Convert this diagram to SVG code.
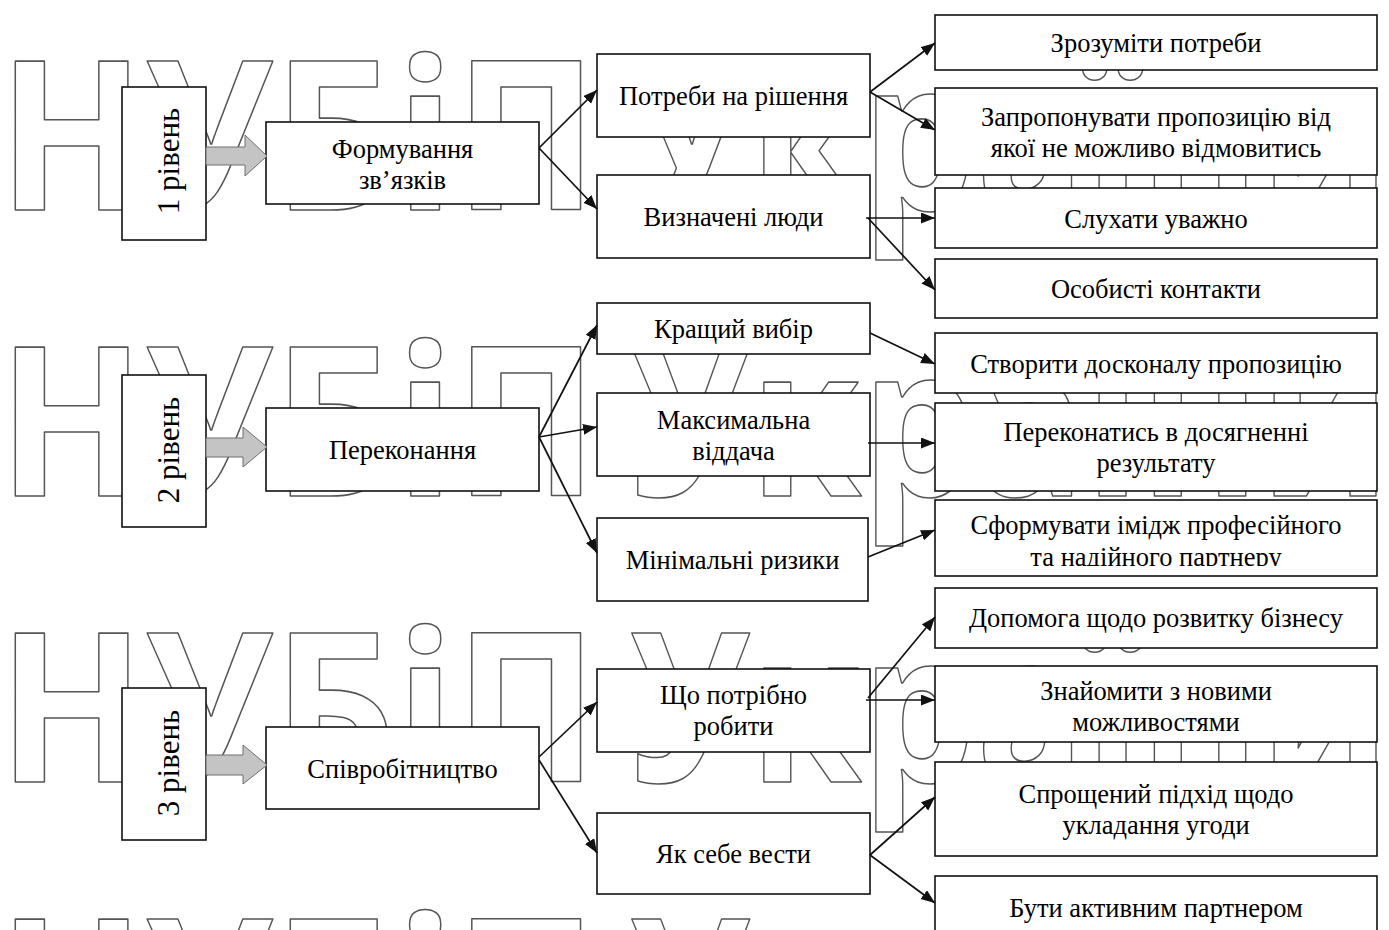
<svg xmlns="http://www.w3.org/2000/svg" width="1389" height="930" viewBox="0 0 1389 930">
  <style>
    .wm text { font-family: "Open Sans", "Liberation Sans", Arial, sans-serif; font-weight: bold; font-size: 209px; fill: #ffffff; stroke: #555555; stroke-width: 1.6; stroke-linejoin: round; }
    .box { fill: #ffffff; stroke: #111111; stroke-width: 1.6; }
    .lbl { font-family: "Liberation Serif", "Times New Roman", serif; font-size: 26.5px; fill: #000000; text-anchor: middle; }
    .lvl { font-family: "Liberation Serif", "Times New Roman", serif; font-size: 31px; fill: #000000; text-anchor: middle; }
    .conn { fill: none; stroke: #111111; stroke-width: 1.7; marker-end: url(#tip); }
    .step { fill: #c4c4c4; stroke: #6e6e6e; stroke-width: 1; }
  </style>
  <defs>
    <marker id="tip" markerUnits="userSpaceOnUse" markerWidth="16" markerHeight="12" refX="14" refY="5.5" orient="auto">
      <path d="M0,0 L14,5.5 L0,11 z" fill="#111111"/>
    </marker>
    <clipPath id="cutSform">
      <rect x="935" y="500" width="442" height="66"/>
    </clipPath>
  </defs>

  <rect width="1389" height="930" fill="#ffffff"/>

  <!-- background lettering -->
  <g id="watermark" class="wm">
    <text x="-2" y="210" textLength="600" lengthAdjust="spacingAndGlyphs">НУБіП</text>
    <text x="630" y="210" textLength="760" lengthAdjust="spacingAndGlyphs">України</text>
    <text x="-2" y="496" textLength="600" lengthAdjust="spacingAndGlyphs">НУБіП</text>
    <text x="630" y="496" textLength="760" lengthAdjust="spacingAndGlyphs">України</text>
    <text x="-2" y="782" textLength="600" lengthAdjust="spacingAndGlyphs">НУБіП</text>
    <text x="630" y="782" textLength="760" lengthAdjust="spacingAndGlyphs">України</text>
    <text x="-2" y="1068" textLength="600" lengthAdjust="spacingAndGlyphs">НУБіП</text>
    <text x="630" y="1068" textLength="760" lengthAdjust="spacingAndGlyphs">України</text>
  </g>

  <!-- level markers -->
  <g id="level1">
    <rect class="box" x="122" y="87" width="84" height="153"/>
    <text class="lvl" transform="translate(179,161) rotate(-90)">1 рівень</text>
  </g>
  <g id="level2">
    <rect class="box" x="122" y="375" width="84" height="152"/>
    <text class="lvl" transform="translate(179,450) rotate(-90)">2 рівень</text>
  </g>
  <g id="level3">
    <rect class="box" x="122" y="688" width="84" height="152"/>
    <text class="lvl" transform="translate(179,763) rotate(-90)">3 рівень</text>
  </g>

  <!-- stage boxes -->
  <g id="formuvannia">
    <rect class="box" x="266" y="122" width="273" height="82"/>
    <text class="lbl" x="402.5" y="158">Формування</text>
    <text class="lbl" x="402.5" y="189">зв’язків</text>
  </g>
  <g id="perekonannia">
    <rect class="box" x="266" y="408" width="273" height="83"/>
    <text class="lbl" x="402.5" y="459">Переконання</text>
  </g>
  <g id="spivrobitnytstvo">
    <rect class="box" x="266" y="727" width="273" height="82"/>
    <text class="lbl" x="402.5" y="778">Співробітництво</text>
  </g>

  <!-- middle column -->
  <g id="potreby">
    <rect class="box" x="597" y="54" width="273" height="83"/>
    <text class="lbl" x="733.5" y="105">Потреби на рішення</text>
  </g>
  <g id="vyznacheni">
    <rect class="box" x="597" y="175" width="273" height="83"/>
    <text class="lbl" x="733.5" y="226">Визначені люди</text>
  </g>
  <g id="krashchyi">
    <rect class="box" x="597" y="303" width="273" height="51"/>
    <text class="lbl" x="733.5" y="338">Кращий вибір</text>
  </g>
  <g id="maksymalna">
    <rect class="box" x="597" y="393" width="273" height="83"/>
    <text class="lbl" x="733.5" y="429">Максимальна</text>
    <text class="lbl" x="733.5" y="460">віддача</text>
  </g>
  <g id="minimalni">
    <rect class="box" x="597" y="518" width="271" height="83"/>
    <text class="lbl" x="732.5" y="569">Мінімальні ризики</text>
  </g>
  <g id="shcho">
    <rect class="box" x="597" y="669" width="273" height="83"/>
    <text class="lbl" x="733.5" y="704">Що потрібно</text>
    <text class="lbl" x="733.5" y="735">робити</text>
  </g>
  <g id="yak">
    <rect class="box" x="597" y="813" width="273" height="81"/>
    <text class="lbl" x="733.5" y="863">Як себе вести</text>
  </g>

  <!-- right column -->
  <g id="zrozumity">
    <rect class="box" x="935" y="15" width="442" height="55"/>
    <text class="lbl" x="1156" y="52">Зрозуміти потреби</text>
  </g>
  <g id="zaproponuvaty">
    <rect class="box" x="935" y="88" width="442" height="87"/>
    <text class="lbl" x="1156" y="126">Запропонувати пропозицію від</text>
    <text class="lbl" x="1156" y="157">якої не можливо відмовитись</text>
  </g>
  <g id="slukhaty">
    <rect class="box" x="935" y="188" width="442" height="60"/>
    <text class="lbl" x="1156" y="228">Слухати уважно</text>
  </g>
  <g id="osobysti">
    <rect class="box" x="935" y="259" width="442" height="59"/>
    <text class="lbl" x="1156" y="298">Особисті контакти</text>
  </g>
  <g id="stvoryty">
    <rect class="box" x="935" y="333" width="442" height="60"/>
    <text class="lbl" x="1156" y="373">Створити досконалу пропозицію</text>
  </g>
  <g id="perekonatys">
    <rect class="box" x="935" y="403" width="442" height="88"/>
    <text class="lbl" x="1156" y="441">Переконатись в досягненні</text>
    <text class="lbl" x="1156" y="472">результату</text>
  </g>
  <g id="sformuvaty">
    <rect class="box" x="935" y="500" width="442" height="76"/>
    <text class="lbl" x="1156" y="534">Сформувати імідж професійного</text>
    <text class="lbl" x="1156" y="566" clip-path="url(#cutSform)">та надійного партнеру</text>
  </g>
  <g id="dopomoha">
    <rect class="box" x="935" y="588" width="442" height="60"/>
    <text class="lbl" x="1156" y="627">Допомога щодо розвитку бізнесу</text>
  </g>
  <g id="znaiomyty">
    <rect class="box" x="935" y="666" width="442" height="76"/>
    <text class="lbl" x="1156" y="700">Знайомити з новими</text>
    <text class="lbl" x="1156" y="731">можливостями</text>
  </g>
  <g id="sproshchenyi">
    <rect class="box" x="935" y="762" width="442" height="94"/>
    <text class="lbl" x="1156" y="803">Спрощений підхід щодо</text>
    <text class="lbl" x="1156" y="834">укладання угоди</text>
  </g>
  <g id="buty">
    <rect class="box" x="935" y="876" width="442" height="70"/>
    <text class="lbl" x="1156" y="917">Бути активним партнером</text>
  </g>

  <!-- level-to-stage block arrows -->
  <g id="steps">
    <polygon class="step" points="206,147 245,147 245,135 267,156 245,176 245,165 206,165"/>
    <polygon class="step" points="206,438 243,438 243,427 267,447 243,467 243,457 206,457"/>
    <polygon class="step" points="206,755 243,755 243,745 267,765 243,784 243,775 206,775"/>
  </g>

  <!-- connectors -->
  <g id="connectors">
    <path class="conn" d="M539,148 L597,90"/>
    <path class="conn" d="M539,148 L597,209"/>
    <path class="conn" d="M870,92 L935,43"/>
    <path class="conn" d="M870,92 L935,130"/>
    <path class="conn" d="M866,218 L935,218"/>
    <path class="conn" d="M868,218 L935,290"/>

    <path class="conn" d="M539,437 L597,325"/>
    <path class="conn" d="M539,437 L597,427"/>
    <path class="conn" d="M539,437 L597,553"/>
    <path class="conn" d="M870,333 L935,364"/>
    <path class="conn" d="M868,443 L935,443"/>
    <path class="conn" d="M868,557 L935,530"/>

    <path class="conn" d="M539,757 L597,702"/>
    <path class="conn" d="M539,760 L597,853"/>
    <path class="conn" d="M868,698 L935,617"/>
    <path class="conn" d="M866,700 L935,700"/>
    <path class="conn" d="M870,855 L935,797"/>
    <path class="conn" d="M870,855 L935,903"/>
  </g>
</svg>
